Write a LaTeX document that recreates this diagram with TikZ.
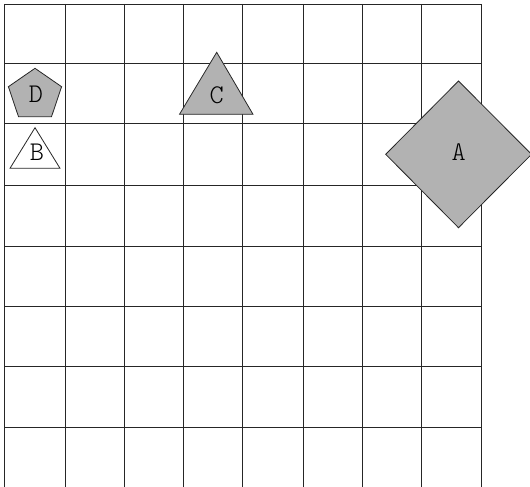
\documentclass[tikz,border=0pt]{standalone}
\usepackage{fontspec}
\newfontfamily\labfont{Latin Modern Mono Light}
\begin{document}
\begin{tikzpicture}[x=1pt,y=-1pt,
  gridline/.style={draw=black!85,line width=0.9pt},
  shapefill/.style={draw=black!85,line width=0.8pt,fill=black!30,line join=miter},
  shapeopen/.style={draw=black!85,line width=0.8pt,fill=white},
  lab/.style={font=\labfont\fontsize{27}{27}\selectfont,inner sep=0pt,anchor=center}]
\useasboundingbox (0,0) rectangle (530,487);
\clip (0,0) rectangle (530,487);
% grid
\foreach \x in {4,65,124,183,242,303,362,421,481}
  \draw[gridline] (\x,4) -- (\x,495);
\foreach \y in {4,63.5,123.5,185,246,306,366,427.5}
  \draw[gridline] (4,\y) -- (481,\y);
% D pentagon
\draw[shapefill] (35,68.3) -- (8.4,86.7) -- (18.5,116.7) -- (51.5,116.7) -- (61.6,86.7) -- cycle;
\node[lab] (D) at (36,94) {D};
% B triangle
\draw[shapeopen] (35,127.7) -- (10,168.3) -- (60,168.3) -- cycle;
\node[lab] (B) at (37,152.5) {B};
% C triangle
\draw[shapefill] (216.7,52.3) -- (179.5,114.3) -- (253,114.3) -- cycle;
\node[lab] (C) at (216.7,95) {C};
% A diamond
\draw[shapefill] (458.5,81) -- (385.7,154.3) -- (458.5,227.7) -- (531.5,154.3) -- cycle;
\node[lab] (A) at (458.7,152.5) {A};
\end{tikzpicture}
\end{document}
